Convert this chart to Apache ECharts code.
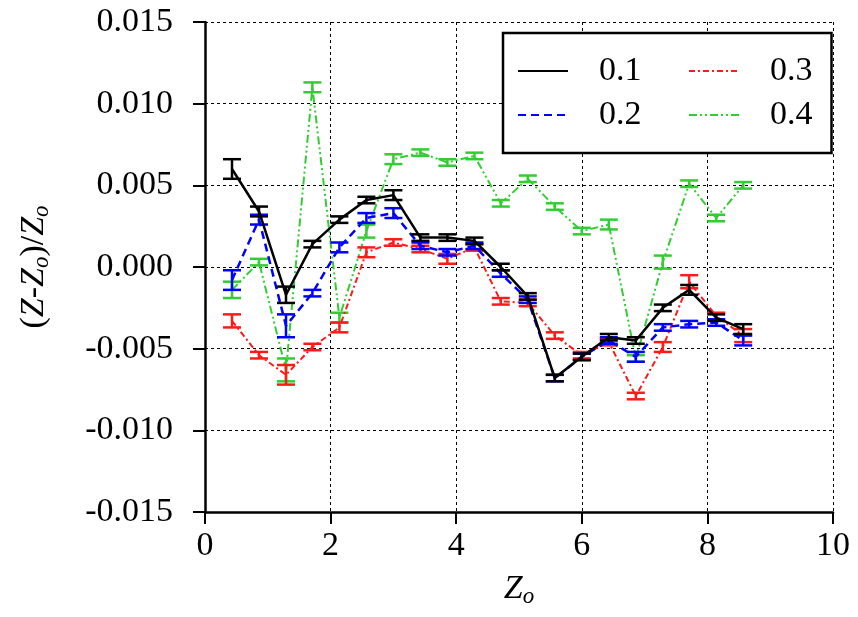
<!DOCTYPE html>
<html>
<head>
<meta charset="utf-8">
<script src="https://cdn.jsdelivr.net/npm/echarts@6/dist/echarts.min.js"></script>
<style>
  html, body { margin: 0; padding: 0; background: #fff; }
  #chart { width: 858px; height: 617px; }
</style>
</head>
<body>
<div id="chart"></div>
<script>
// Sampling positions Zo
const zo = [0.43, 0.86, 1.29, 1.71, 2.14, 2.57, 3.00, 3.43, 3.86, 4.29,
            4.71, 5.14, 5.57, 6.00, 6.43, 6.86, 7.29, 7.71, 8.14, 8.57];

// Relative deviation (Z-Zo)/Zo for each parameter value
const dev01 = [0.0060, 0.0034, -0.0017, 0.0014, 0.0029, 0.0041, 0.0044, 0.0018, 0.0018, 0.0016,
               0.0000, -0.0018, -0.0068, -0.0055, -0.0043, -0.0045, -0.0025, -0.0014, -0.0031, -0.0038];
const dev02 = [-0.0008, 0.0029, -0.0036, -0.0016, 0.0012, 0.0030, 0.0033, 0.0013, 0.0009, 0.0013,
               -0.0004, -0.0020, -0.0068, -0.0055, -0.0045, -0.0055, -0.0037, -0.0035, -0.0034, -0.0045];
const dev03 = [-0.0033, -0.0054, -0.0066, -0.0049, -0.0037, 0.0009, 0.0015, 0.0011, 0.0005, 0.0012,
               -0.0021, -0.0022, -0.0042, -0.0054, -0.0046, -0.0079, -0.0049, -0.0009, -0.0030, -0.0042];
const dev04 = [-0.0014, 0.0003, -0.0063, 0.0110, -0.0031, 0.0022, 0.0066, 0.0070, 0.0064, 0.0068,
               0.0039, 0.0054, 0.0037, 0.0022, 0.0026, -0.0056, 0.0003, 0.0051, 0.0030, 0.0050];

// Error bar half-heights
const err01 = [0.0006, 0.0003, 0.0005, 0.0002, 0.0002, 0.0002, 0.0003, 0.0002, 0.0002, 0.0002,
               0.0002, 0.0002, 0.0002, 0.0002, 0.0002, 0.0002, 0.0002, 0.0003, 0.0002, 0.0003];
const err02 = [0.0006, 0.0003, 0.0007, 0.0002, 0.0003, 0.0003, 0.0003, 0.0002, 0.0002, 0.0002,
               0.0002, 0.0002, 0.0002, 0.0002, 0.0002, 0.0003, 0.0002, 0.0002, 0.0002, 0.0003];
const err03 = [0.0004, 0.0002, 0.0006, 0.0002, 0.0003, 0.0003, 0.0002, 0.0002, 0.0003, 0.0002,
               0.0002, 0.0002, 0.0002, 0.0002, 0.0002, 0.0002, 0.0003, 0.0004, 0.0002, 0.0004];
const err04 = [0.0005, 0.0002, 0.0007, 0.0003, 0.0003, 0.0004, 0.0003, 0.0002, 0.0002, 0.0002,
               0.0002, 0.0002, 0.0002, 0.0002, 0.0003, 0.0002, 0.0004, 0.0002, 0.0002, 0.0002];

const seriesNames = ['0.1', '0.2', '0.3', '0.4'];
const yTicks = [-0.015, -0.010, -0.005, 0.000, 0.005, 0.010, 0.015];
const xTicks = [0, 2, 4, 6, 8, 10];

const FONT = 'Liberation Serif';
const FS = 34;
const defs = [
  { name: '0.1', y: dev01, e: err01, color: '#000000', dash: 'solid', w: 2.5 },
  { name: '0.2', y: dev02, e: err02, color: '#0000ff', dash: [8, 5], w: 2.5 },
  { name: '0.3', y: dev03, e: err03, color: '#ff1a1a', dash: [6, 3, 2, 3], w: 2 },
  { name: '0.4', y: dev04, e: err04, color: '#33cc33', dash: [8, 3, 2, 3, 2, 3], w: 2 }
];

function errorBarRender(color) {
  return function (params, api) {
    const x = api.value(0);
    const lo = api.coord([x, api.value(1)]);
    const hi = api.coord([x, api.value(2)]);
    const half = 9;
    const st = { stroke: color, lineWidth: 2.5 };
    return {
      type: 'group',
      children: [
        { type: 'line', shape: { x1: lo[0], y1: lo[1], x2: hi[0], y2: hi[1] }, style: st },
        { type: 'line', shape: { x1: lo[0] - half, y1: lo[1], x2: lo[0] + half, y2: lo[1] }, style: st },
        { type: 'line', shape: { x1: hi[0] - half, y1: hi[1], x2: hi[0] + half, y2: hi[1] }, style: st }
      ]
    };
  };
}

const series = [];
// draw order: 0.4, 0.3, 0.2, 0.1 (black on top)
[3, 2, 1, 0].forEach(function (i) {
  const d = defs[i];
  series.push({
    name: d.name,
    type: 'line',
    data: zo.map(function (x, k) { return [x, d.y[k]]; }),
    symbol: 'none',
    lineStyle: { color: d.color, width: d.w, type: d.dash },
    itemStyle: { color: d.color },
    z: 2 + (3 - i),
    animation: false
  });
  series.push({
    name: d.name,
    type: 'custom',
    renderItem: errorBarRender(d.color),
    data: zo.map(function (x, k) { return [x, d.y[k] - d.e[k], d.y[k] + d.e[k]]; }),
    encode: { x: 0, y: [1, 2] },
    z: 2 + (3 - i),
    animation: false,
    silent: true
  });
});

// Two legend columns; the first one carries the framed box
const legendCommon = {
  orient: 'vertical',
  itemWidth: 50,
  itemHeight: 14,
  itemGap: 10,
  itemStyle: { opacity: 0 },
  textStyle: { fontFamily: FONT, fontSize: FS, color: '#000', padding: [0, 0, 0, 26] }
};

const chart = echarts.init(document.getElementById('chart'), null, { renderer: 'canvas' });
chart.setOption({
  backgroundColor: '#ffffff',
  animation: false,
  textStyle: { fontFamily: FONT },
  grid: { left: 205, right: 25, top: 22, bottom: 105 },
  legend: [
    Object.assign({}, legendCommon, {
      data: [seriesNames[0], seriesNames[1]],
      left: 503,
      top: 33,
      padding: [21, 190, 21, 14],
      backgroundColor: '#ffffff',
      borderColor: '#000000',
      borderWidth: 2.5,
      z: 5
    }),
    Object.assign({}, legendCommon, {
      data: [seriesNames[2], seriesNames[3]],
      left: 688,
      top: 54,
      padding: 0,
      z: 6
    })
  ],
  xAxis: {
    type: 'value',
    min: xTicks[0],
    max: xTicks[xTicks.length - 1],
    interval: 2,
    name: '{i|Z}{s|o}',
    nameLocation: 'middle',
    nameGap: 58,
    nameTextStyle: {
      rich: {
        i: { fontFamily: FONT, fontStyle: 'italic', fontSize: FS, color: '#000' },
        s: { fontFamily: FONT, fontStyle: 'italic', fontSize: 23, color: '#000', verticalAlign: 'bottom', padding: [15, 0, 0, 0] }
      }
    },
    axisLine: { onZero: false, lineStyle: { color: '#000', width: 2.5 } },
    axisTick: { show: true, inside: false, length: 12, lineStyle: { color: '#000', width: 2 } },
    axisLabel: { fontFamily: FONT, fontSize: FS, color: '#000', margin: 17 },
    splitLine: { show: true, lineStyle: { color: '#000', width: 1, type: [3, 3] } }
  },
  yAxis: {
    type: 'value',
    min: yTicks[0],
    max: yTicks[yTicks.length - 1],
    interval: 0.005,
    name: '{n|(}{i|Z}{n|-}{i|Z}{s|o}{n|)/}{i|Z}{s|o}',
    nameLocation: 'middle',
    nameGap: 152,
    nameRotate: 90,
    nameTextStyle: {
      rich: {
        n: { fontFamily: FONT, fontSize: FS, color: '#000' },
        i: { fontFamily: FONT, fontStyle: 'italic', fontSize: FS, color: '#000' },
        s: { fontFamily: FONT, fontStyle: 'italic', fontSize: 23, color: '#000', verticalAlign: 'bottom', padding: [15, 0, 0, 0] }
      }
    },
    axisLine: { show: true, onZero: false, lineStyle: { color: '#000', width: 2.5 } },
    axisTick: { show: true, inside: false, length: 12, lineStyle: { color: '#000', width: 2 } },
    axisLabel: {
      fontFamily: FONT, fontSize: FS, color: '#000', margin: 32,
      formatter: function (v) { return v.toFixed(3); }
    },
    splitLine: { show: true, lineStyle: { color: '#000', width: 1, type: [3, 3] } }
  },
  series: series
});
</script>
</body>
</html>
